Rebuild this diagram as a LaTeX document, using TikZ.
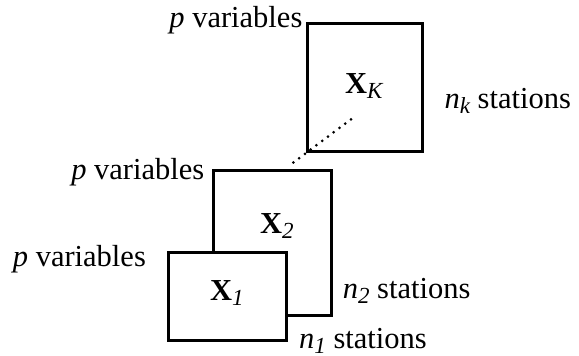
\documentclass[tikz,border=0pt]{standalone}
\usepackage{fontspec}
\setmainfont{Liberation Serif}
\usetikzlibrary{positioning}
\tikzset{
  mat/.style={rectangle,draw=black,line width=2.9pt,fill=white,inner sep=0pt},
  lbl/.style={inner sep=0pt,font=\fontsize{30.5}{36}\selectfont},
  dots/.style={line width=3pt,line cap=round,dash pattern=on 0pt off 7.2pt},
}
\newcommand{\sub}[1]{\raisebox{-0.18em}{\fontsize{23}{23}\selectfont\itshape #1}}

\begin{document}
\begin{tikzpicture}[x=1pt,y=-1pt]
  \useasboundingbox (0,0) rectangle (579,356);
  % the three data blocks
  \node[mat,minimum width=118pt,minimum height=145.5pt] (X2) at (272.9,242.8) {};
  \node[mat,minimum width=118pt,minimum height=88.5pt] (X1) at (227.5,296.3) {};
  \node[mat,fill=none,minimum width=115pt,minimum height=128.2pt] (XK) at (365.2,87.6) {};
  \node[lbl,anchor=base west] (tK) at (345,93.3) {\textbf{X}\sub{K}};
  \node[lbl,anchor=base west] (t2) at (260,233) {\textbf{X}\sub{2}};
  \node[lbl,anchor=base west] (t1) at (210,300) {\textbf{X}\sub{1}};
  % sizes
  \node[lbl,anchor=base east] (pK) at ([xshift=-3.7pt,yshift=-5.5pt]XK.north west) {\textit{p} variables};
  \node[lbl,anchor=base east] (p2) at ([xshift=-8pt,yshift=-11pt]X2.north west) {\textit{p} variables};
  \node[lbl,anchor=base east] (p1) at ([xshift=-21pt,yshift=-16pt]X1.north west) {\textit{p} variables};
  \node[lbl,anchor=base west] (nK) at ([xshift=20.3pt,yshift=44.7pt]XK.south east) {\textit{n}\sub{k} stations};
  \node[lbl,anchor=base west] (n2) at ([xshift=9.3pt,yshift=19pt]X2.south east) {\textit{n}\sub{2} stations};
  \node[lbl,anchor=base west] (n1) at ([xshift=11pt,yshift=-6pt]X1.south east) {\textit{n}\sub{1} stations};
  % the blocks in between
  \coordinate (dA) at (351,119.3);
  \coordinate (dB) at (292.3,163.3);
  \draw[dots] (dA) -- (dB);
\end{tikzpicture}
\end{document}
